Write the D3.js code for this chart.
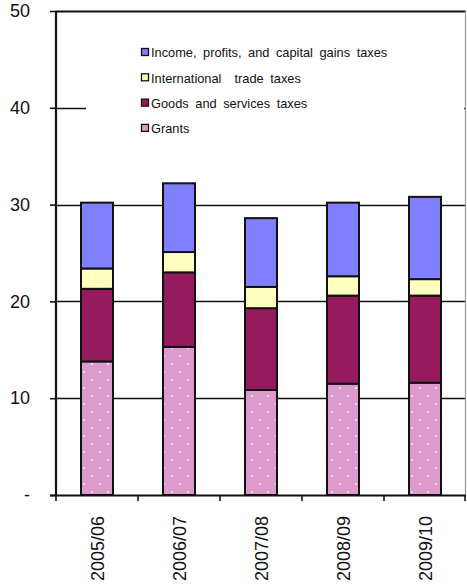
<!DOCTYPE html>
<html>
<head>
<meta charset="utf-8">
<script src="https://cdn.jsdelivr.net/npm/d3@7"></script>
<style>
  html, body { margin: 0; padding: 0; background: #fff; }
  svg { display: block; font-family: "Liberation Sans", Arial, sans-serif; }
  .legend-label { white-space: pre; }
</style>
</head>
<body>
<svg id="chart" width="467" height="586"></svg>
<script>
// Fiscal years on the x axis
const years = ["2005/06", "2006/07", "2007/08", "2008/09", "2009/10"];

// Stack components, bottom to top
const grants = [13.8, 15.3, 10.85, 11.5, 11.6];
const goodsServices = [7.5, 7.7, 8.45, 9.1, 9.0];
const intlTrade = [2.1, 2.1, 2.2, 2.0, 1.7];
const incomeTaxes = [6.8, 7.1, 7.1, 7.6, 8.5];

// Y axis tick labels (zero is shown as a dash)
const yTicks = [0, 10, 20, 30, 40, 50];
const yTickLabels = ["-", "10", "20", "30", "40", "50"];

// Legend entries, listed top to bottom
const legendLabels = [
  "Income, profits, and capital gains taxes",
  "International  trade taxes",
  "Goods and services taxes",
  "Grants"
];

const seriesKeys = ["grants", "goods", "intl", "income"];
const seriesColors = {
  grants: "#DD9ACC",
  goods: "#951B5E",
  intl: "#FFFFC0",
  income: "#8080FF"
};
const legendKeys = ["income", "intl", "goods", "grants"];

const rows = years.map((y, i) => ({
  year: y,
  grants: grants[i],
  goods: goodsServices[i],
  intl: intlTrade[i],
  income: incomeTaxes[i]
}));

const svg = d3.select("#chart");
const plot = { left: 56, right: 466, top: 11, bottom: 495 };

const x = d3.scaleBand()
  .domain(years)
  .range([plot.left, plot.right])
  .paddingInner(0.61)
  .paddingOuter(0.305);

const y = d3.scaleLinear()
  .domain([0, 50])
  .range([plot.bottom, plot.top]);

// Dotted fill for the grants segments
const defs = svg.append("defs");
const pat = defs.append("pattern")
  .attr("id", "dots")
  .attr("patternUnits", "userSpaceOnUse")
  .attr("width", 16).attr("height", 16)
  .attr("x", 0).attr("y", 0);
pat.append("rect").attr("width", 16).attr("height", 16).attr("fill", seriesColors.grants);
pat.append("circle").attr("cx", 4).attr("cy", 4).attr("r", 1).attr("fill", "#fff").attr("opacity", 0.85);
pat.append("circle").attr("cx", 12).attr("cy", 12).attr("r", 1).attr("fill", "#fff").attr("opacity", 0.85);

// Horizontal gridlines
svg.append("g")
  .selectAll("line")
  .data(yTicks.filter(t => t > 0))
  .join("line")
  .attr("x1", plot.left).attr("x2", plot.right)
  .attr("y1", d => Math.round(y(d)) + 0.5)
  .attr("y2", d => Math.round(y(d)) + 0.5)
  .attr("stroke", "#111")
  .attr("stroke-width", d => d === 50 ? 2 : 1.6);

// Right frame edge
svg.append("line")
  .attr("x1", plot.right - 0.5).attr("x2", plot.right - 0.5)
  .attr("y1", plot.top).attr("y2", plot.bottom)
  .attr("stroke", "#999").attr("stroke-width", 1.2);

// Stacked bars
const stack = d3.stack().keys(seriesKeys)(rows);
svg.append("g")
  .selectAll("g")
  .data(stack)
  .join("g")
  .attr("fill", d => d.key === "grants" ? "url(#dots)" : seriesColors[d.key])
  .selectAll("rect")
  .data(d => d)
  .join("rect")
  .attr("x", d => x(d.data.year))
  .attr("width", x.bandwidth())
  .attr("y", d => y(d[1]))
  .attr("height", d => y(d[0]) - y(d[1]))
  .attr("stroke", "#111")
  .attr("stroke-width", 2);

// Legend, with a white box hiding the gridline behind it
const legend = svg.append("g");
legend.append("rect")
  .attr("x", 86).attr("y", 32)
  .attr("width", 378).attr("height", 110)
  .attr("fill", "#fff");
legendKeys.forEach((k, i) => {
  const cy = 53 + i * 25.3;
  legend.append("rect")
    .attr("x", 141.5).attr("y", cy - 4.5)
    .attr("width", 7).attr("height", 7)
    .attr("fill", seriesColors[k])
    .attr("stroke", "#111").attr("stroke-width", 1.3);
  legend.append("text")
    .attr("class", "legend-label")
    .attr("x", 151).attr("y", cy + 4.3)
    .attr("font-size", 12.8)
    .attr("fill", "#111")
    .attr("word-spacing", 3)
    .text(legendLabels[i]);
});

// Y axis
const yAxis = svg.append("g")
  .attr("transform", `translate(${plot.left},0)`)
  .call(d3.axisLeft(y).tickValues(yTicks).tickSize(6).tickPadding(20)
    .tickFormat((d, i) => yTickLabels[i]));
yAxis.select(".domain").remove();
yAxis.selectAll(".tick line").attr("stroke", "#111").attr("stroke-width", 1.6);
yAxis.selectAll(".tick text")
  .attr("font-size", 18)
  .attr("font-family", "Liberation Sans, Arial, sans-serif")
  .attr("fill", "#111");
svg.append("line")
  .attr("x1", plot.left).attr("x2", plot.left)
  .attr("y1", plot.top).attr("y2", plot.bottom + 1)
  .attr("stroke", "#111").attr("stroke-width", 2.2);

// X axis with ticks at the category boundaries
const bounds = years.map(d => x(d) - x.step() * x.paddingInner() / 2).concat([plot.right - 1]);
svg.append("g")
  .selectAll("line")
  .data(bounds)
  .join("line")
  .attr("x1", (d, i) => i === 0 ? plot.left : d)
  .attr("x2", (d, i) => i === 0 ? plot.left : d)
  .attr("y1", plot.bottom).attr("y2", plot.bottom + 6)
  .attr("stroke", "#111").attr("stroke-width", 1.6);
svg.append("line")
  .attr("x1", plot.left - 6).attr("x2", plot.right)
  .attr("y1", plot.bottom + 0.5).attr("y2", plot.bottom + 0.5)
  .attr("stroke", "#111").attr("stroke-width", 2.2);

svg.append("g")
  .selectAll("text")
  .data(years)
  .join("text")
  .attr("transform", d => `translate(${x(d) + x.bandwidth() / 2 + 6.5},516) rotate(-90)`)
  .attr("text-anchor", "end")
  .attr("font-size", 18)
  .attr("fill", "#111")
  .text(d => d);
</script>
</body>
</html>
